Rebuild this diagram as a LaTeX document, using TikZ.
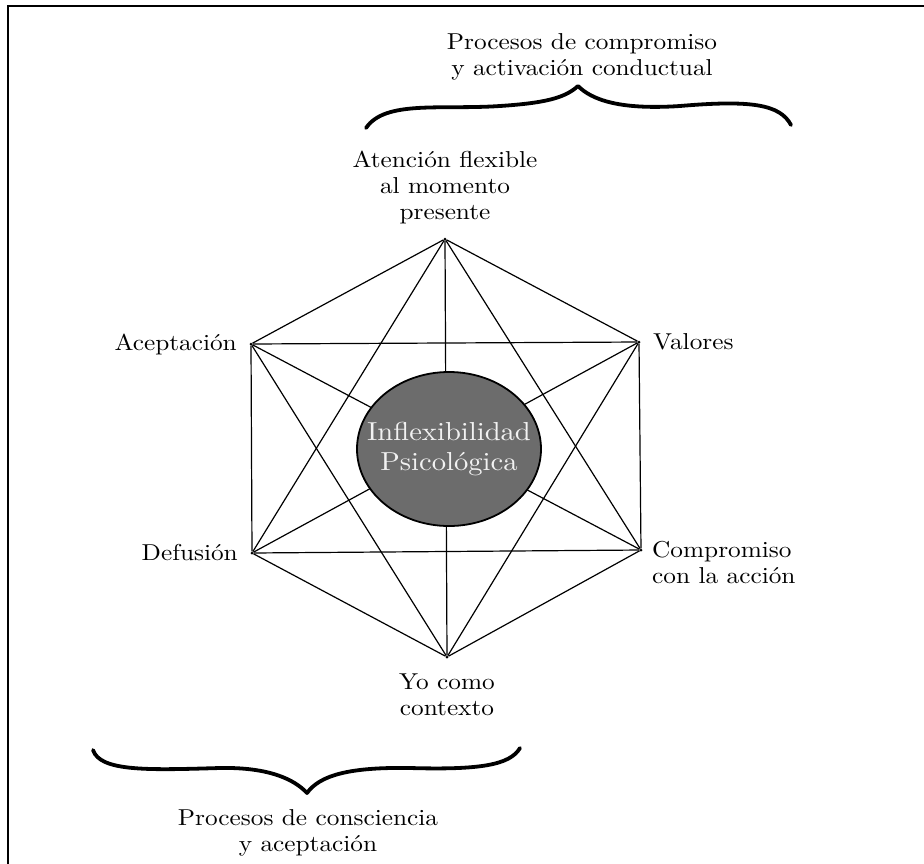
\documentclass[tikz,border=0pt]{standalone}
\usepackage{fontspec}
\setmainfont{lmroman10-regular}[Extension=.otf,FakeStretch=1.1]
\usetikzlibrary{shapes.geometric}

\begin{document}
\begin{tikzpicture}[x=1pt,y=-1pt,
    vertice/.style={shape=circle,fill=black,inner sep=0pt,minimum size=3pt},
    etiqueta/.style={inner sep=0pt,font=\fontsize{23}{26}\selectfont},
    arista/.style={line width=1.2pt},
    llave/.style={line width=3.8pt,line cap=round,line join=round}]
    \definecolor{acc_gris}{RGB}{108,108,108}
    \definecolor{acc_texto}{RGB}{242,242,242}
    \useasboundingbox (0,0) rectangle (924,863);
    \draw[line width=2.5pt] (8,870) -- (8,6) -- (930,6);
    \node[etiqueta,anchor=north,align=center] (compromiso) at (582,33) {Procesos de compromiso\\y activación conductual};
    \draw[llave] (366,128) .. controls (385,100) and (440,110) .. (500,106) .. controls (545,103) and (565,98) .. (578,86) .. controls (592,100) and (620,110) .. (680,106) .. controls (750,100) and (780,104) .. (791,125);
    \node[vertice] (atencion) at (445,239) {};
    \node[vertice] (aceptacion) at (251,344) {};
    \node[vertice] (valores) at (639,342) {};
    \node[vertice] (defusion) at (252,553) {};
    \node[vertice] (accion) at (641,550) {};
    \node[vertice] (yo) at (447,657) {};
    \foreach \a/\b in {atencion/valores,valores/accion,accion/yo,yo/defusion,defusion/aceptacion,aceptacion/atencion,
        atencion/yo,aceptacion/accion,valores/defusion,
        atencion/defusion,atencion/accion,aceptacion/valores,aceptacion/yo,valores/yo,defusion/accion}
        \draw[arista] (\a) -- (\b);
    \node[shape=ellipse,draw,line width=1.8pt,fill=acc_gris,minimum width=184pt,minimum height=154pt,inner sep=0pt] (nucleo) at (449,449) {};
    \node[inner sep=0pt,align=center,text=acc_texto,font=\fontsize{26}{30}\selectfont] (nucleotexto) at (nucleo.center) {Inflexibilidad\\Psicológica};
    \node[etiqueta,anchor=north,align=center] (atenciontexto) at (445,151) {Atención flexible\\al momento\\presente};
    \node[etiqueta,anchor=east] (aceptaciontexto) at (237,344) {Aceptación};
    \node[etiqueta,anchor=west] (valorestexto) at (653,342) {Valores};
    \node[etiqueta,anchor=east] (defusiontexto) at (238,553) {Defusión};
    \node[etiqueta,anchor=north west,align=left] (acciontexto) at (652,541) {Compromiso\\con la acción};
    \node[etiqueta,anchor=north,align=center] (yotexto) at (447,674) {Yo como\\contexto};
    \draw[llave] (93,750) .. controls (100,772) and (150,770) .. (220,768) .. controls (270,767) and (295,780) .. (307,793) .. controls (320,775) and (350,767) .. (410,768) .. controls (480,770) and (510,765) .. (520,748);
    \node[etiqueta,anchor=north,align=center] (consciencia) at (308,809) {Procesos de consciencia\\y aceptación};
\end{tikzpicture}
\end{document}
